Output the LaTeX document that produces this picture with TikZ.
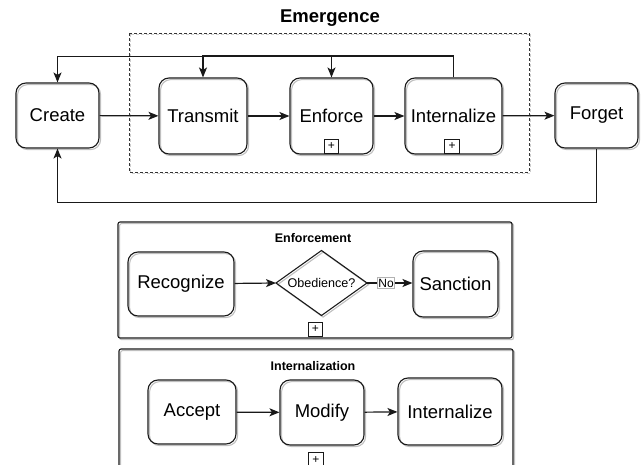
\documentclass[tikz,border=0pt]{standalone}
\usepackage{fontspec}
\setmainfont{Liberation Sans}
\usetikzlibrary{arrows.meta}
\begin{document}
\begin{tikzpicture}[x=1pt,y=-1pt,
  shd/.style={preaction={draw=black!25,line width=1.1pt,transform canvas={shift={(1.6pt,-1.6pt)}}}},
  proc/.style={shd,draw=black!90,line width=1.1pt,rounded corners=10pt,inner sep=0pt,font=\fontsize{18.5}{22}\selectfont},
  plusbox/.style={draw=black!90,line width=0.8pt,minimum size=14.5pt,inner sep=0pt,font=\fontsize{12}{12}\selectfont},
  panel/.style={shd,draw=black!90,line width=1.1pt,rounded corners=2pt,inner sep=0pt},
  conn/.style={draw=black!90,line width=1.2pt,-{Stealth[length=10pt,width=8pt,inset=2.5pt]}},
  title/.style={font=\bfseries\fontsize{12.5}{14}\selectfont},
  nolab/.style={draw=black!30,fill=white,inner sep=1pt,font=\fontsize{12}{12}\selectfont}
]
\useasboundingbox (0,0) rectangle (643,465);

% Emergence group
\node[font=\bfseries\fontsize{18.5}{22}\selectfont] (em) at (330,18) {Emergence};
\draw[draw=black!20,line width=0.8pt,dash pattern=on 3pt off 2pt] (130.5,34.5) rectangle (530.5,173.5);
\draw[draw=black!80,line width=0.8pt,dash pattern=on 3pt off 2pt] (129,33) rectangle (529,172);

\node[proc,minimum width=83pt,minimum height=65pt] (create) at (57.5,115.5) {Create};
\node[proc,minimum width=88pt,minimum height=76pt] (tr) at (203,116) {Transmit};
\node[proc,minimum width=83pt,minimum height=76pt] (enf) at (331.5,116) {Enforce};
\node[proc,minimum width=97pt,minimum height=76pt] (int) at (453.5,116) {Internalize};
\node[proc,minimum width=83pt,minimum height=65pt] (fg) at (596.5,115.5) {Forget};
\node[plusbox] (enfp) at (331.5,146.5) {+};
\node[plusbox] (intp) at (452,146.5) {+};

\draw[conn] (create) -- (tr);
\draw[conn] (tr) -- (enf);
\draw[conn] (enf) -- (int);
\draw[conn] (int) -- (fg);
\draw[conn] (int.north) -- ++(0,-21) -| (create.north);
\draw[conn] (int.north) -- ++(0,-22) -| (tr.north);
\draw[conn] (int.north) -- ++(0,-21) -| (enf.north);
\draw[conn] (fg.south) -- ++(0,54) -| (create.south);

% Enforcement panel
\node[panel,minimum width=394pt,minimum height=116pt] (ep) at (315,280) {};
\node[title] (et) at (313,238) {Enforcement};
\node[proc,minimum width=106pt,minimum height=64pt] (rec) at (181,284) {Recognize};
\draw[shd,draw=black!90,line width=1.1pt] (276,283) -- (321.5,250.5) -- (367,283) -- (321.5,315.5) -- cycle;
\coordinate (dl) at (276,283);
\coordinate (dr) at (367,283);
\node[font=\fontsize{12.6}{14}\selectfont] (ob) at (321.5,283) {Obedience?};
\node[proc,minimum width=85pt,minimum height=66pt] (san) at (455.5,284) {Sanction};
\node[plusbox] (epp) at (315.5,329.5) {+};
\draw[conn] (rec) -- (dl);
\draw[conn] (dr) -- node[nolab,pos=0.42] {No} (san.west |- dr);

% Internalization panel
\node[panel,minimum width=394pt,minimum height=160pt] (ip) at (316,429) {};
\node[title] (it) at (313,366) {Internalization};
\node[proc,minimum width=88pt,minimum height=64pt] (acc) at (192,412) {Accept};
\node[proc,minimum width=84pt,minimum height=65pt] (mod) at (322,412.5) {Modify};
\node[proc,minimum width=104pt,minimum height=67pt] (int2) at (450,411.5) {Internalize};
\node[plusbox] (ipp) at (316,460) {+};
\draw[conn] (acc) -- (mod);
\draw[conn] (mod) -- (int2);
\end{tikzpicture}
\end{document}
